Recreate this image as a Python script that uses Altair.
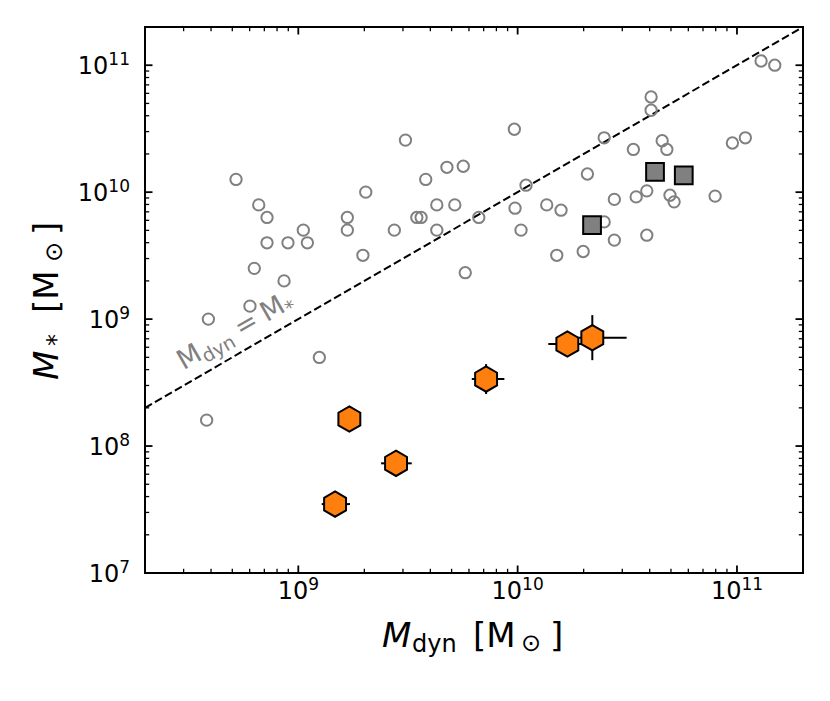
import altair as alt
import pandas as pd

# ---------------- data ----------------
# grey open circles: comparison sample
circ_mdyn = [5.2e8, 6.6e8, 7.2e8, 7.2e8, 8.97e8, 1.054e9, 1.10e9, 6.30e8, 8.61e8,
             1.673e9, 1.673e9, 2.03e9, 1.97e9, 2.74e9, 3.08e9, 3.47e9, 3.63e9, 3.81e9, 4.28e9, 4.28e9,
             4.76e9, 5.17e9, 5.65e9, 5.77e9, 6.65e9,
             9.66e9, 9.73e9, 1.036e10, 1.092e10, 1.357e10, 1.508e10, 1.577e10, 1.99e10, 2.08e10,
             2.48e10, 2.48e10, 2.76e10, 2.76e10, 3.37e10, 3.47e10, 3.88e10, 3.88e10, 4.06e10, 4.06e10,
             4.56e10, 4.79e10, 4.95e10, 5.17e10, 7.95e10, 9.53e10, 1.092e11, 1.288e11, 1.487e11,
             3.89e8, 6.02e8, 1.247e9, 3.82e8]
circ_mstar = [1.26e10, 7.94e9, 6.32e9, 3.99e9, 3.99e9, 5.02e9, 3.99e9, 2.51e9, 2.0e9,
              6.32e9, 5.02e9, 1.0e10, 3.18e9, 5.02e9, 2.57e10, 6.32e9, 6.32e9, 1.26e10, 7.94e9, 5.02e9,
              1.57e10, 7.94e9, 1.60e10, 2.32e9, 6.32e9,
              3.13e10, 7.48e9, 5.02e9, 1.135e10, 7.94e9, 3.18e9, 7.21e9, 3.41e9, 1.39e10,
              2.68e10, 5.83e9, 8.77e9, 4.19e9, 2.17e10, 9.18e9, 1.024e10, 4.58e9, 5.62e10, 4.42e10,
              2.54e10, 2.17e10, 9.46e9, 8.39e9, 9.3e9, 2.44e10, 2.68e10, 1.08e11, 1.0e11,
              1.0e9, 1.265e9, 4.99e8, 1.60e8]

# grey squares
sq_mdyn = [2.184e10, 4.23e10, 5.72e10]
sq_mstar = [5.50e9, 1.445e10, 1.353e10]

# orange hexagons
hex_mdyn = [1.709e9, 2.79e9, 1.471e9, 7.18e9, 1.685e10, 2.19e10]
hex_mstar = [1.632e8, 7.31e7, 3.49e7, 3.37e8, 6.36e8, 7.13e8]

# horizontal error bars (M_dyn)
xerr_mstar = [7.31e7, 3.49e7, 3.37e8, 6.36e8, 7.13e8]
xerr_lo = [2.384e9, 1.278e9, 6.18e9, 1.38e10, 1.53e10]
xerr_hi = [3.29e9, 1.721e9, 8.70e9, 2.07e10, 3.14e10]

# vertical error bars (M_*)
yerr_mdyn = [7.18e9, 2.19e10]
yerr_lo = [2.57e8, 4.75e8]
yerr_hi = [4.42e8, 1.075e9]

# one-to-one line
line_m = [2e8, 2e11]

# axis ticks and tick labels (10^exponent)
x_major = [1e9, 1e10, 1e11]
x_exp = ["9", "10", "11"]
y_major = [1e7, 1e8, 1e9, 1e10, 1e11]
y_exp = ["7", "8", "9", "10", "11"]
x_minor = [m * 10.0 ** e for e in (8, 9, 10) for m in range(2, 10) if 2e8 < m * 10.0 ** e < 2e11]
y_minor = [m * 10.0 ** e for e in (7, 8, 9, 10, 11) for m in range(2, 10) if 1e7 < m * 10.0 ** e < 2e11]

# ---------------- layout ----------------
W, H = 658, 546
FONT = "DejaVu Sans"
GREY = "#808080"
ORANGE = "#ff7f0e"
TL = 24      # tick label font size ("10")
TE = 17      # exponent font size
DIG = 0.636  # DejaVu digit advance (em)

x_scale = alt.Scale(type="log", domain=[2e8, 2e11], nice=False)
y_scale = alt.Scale(type="log", domain=[1e7, 2e11], nice=False)
x_axis = alt.Axis(labels=False, ticks=False, domain=False, grid=False, title=None)
y_axis = alt.Axis(labels=False, ticks=False, domain=False, grid=False, title=None)


def X(field):
    return alt.X(field, type="quantitative", scale=x_scale, axis=x_axis)


def Y(field):
    return alt.Y(field, type="quantitative", scale=y_scale, axis=y_axis)


layers = []

# one-to-one dashed line
line_df = pd.DataFrame({"mdyn": line_m, "mstar": line_m})
layers.append(alt.Chart(line_df).mark_line(color="black", strokeWidth=2, strokeDash=[8, 3.5])
              .encode(x=X("mdyn"), y=Y("mstar")))

# ticks (inward, on all four sides)
for vals, length, width in ((x_major, 7.5, 1.8), (x_minor, 4.2, 1.3)):
    df = pd.DataFrame({"v": vals})
    base = alt.Chart(df).mark_rule(color="black", strokeWidth=width)
    layers.append(base.encode(x=X("v"), y=alt.value(H), y2=alt.value(H - length)))
    layers.append(base.encode(x=X("v"), y=alt.value(0), y2=alt.value(length)))
for vals, length, width in ((y_major, 7.5, 1.8), (y_minor, 4.2, 1.3)):
    df = pd.DataFrame({"v": vals})
    base = alt.Chart(df).mark_rule(color="black", strokeWidth=width)
    layers.append(base.encode(y=Y("v"), x=alt.value(0), x2=alt.value(length)))
    layers.append(base.encode(y=Y("v"), x=alt.value(W), x2=alt.value(W - length)))

# tick labels: "10" + raised exponent
for v, e in zip(x_major, x_exp):
    df = pd.DataFrame({"v": [v]})
    w10 = 2 * DIG * TL
    total = w10 + len(e) * DIG * TE
    start = -total / 2
    layers.append(alt.Chart(df).mark_text(text="10", font=FONT, fontSize=TL, color="black",
                                          align="left", baseline="alphabetic", dx=start)
                  .encode(x=X("v"), y=alt.value(H + 25.5)))
    layers.append(alt.Chart(df).mark_text(text=e, font=FONT, fontSize=TE, color="black",
                                          align="left", baseline="alphabetic", dx=start + w10)
                  .encode(x=X("v"), y=alt.value(H + 16.5)))
for v, e in zip(y_major, y_exp):
    df = pd.DataFrame({"v": [v]})
    we = len(e) * DIG * TE
    layers.append(alt.Chart(df).mark_text(text="10", font=FONT, fontSize=TL, color="black",
                                          align="right", baseline="alphabetic", dy=8.7)
                  .encode(y=Y("v"), x=alt.value(-15 - we)))
    layers.append(alt.Chart(df).mark_text(text=e, font=FONT, fontSize=TE, color="black",
                                          align="right", baseline="alphabetic", dy=0)
                  .encode(y=Y("v"), x=alt.value(-15)))

# grey circles
circ_df = pd.DataFrame({"mdyn": circ_mdyn, "mstar": circ_mstar})
layers.append(alt.Chart(circ_df).mark_point(shape="circle", filled=False, stroke=GREY,
                                            strokeWidth=2, size=128, opacity=1)
              .encode(x=X("mdyn"), y=Y("mstar")))

# grey squares
sq_df = pd.DataFrame({"mdyn": sq_mdyn, "mstar": sq_mstar})
layers.append(alt.Chart(sq_df).mark_point(shape="square", filled=True, fill=GREY, stroke="black",
                                          strokeWidth=2, size=315, opacity=1, fillOpacity=1)
              .encode(x=X("mdyn"), y=Y("mstar")))

# error bars
xe_df = pd.DataFrame({"lo": xerr_lo, "hi": xerr_hi, "mstar": xerr_mstar})
layers.append(alt.Chart(xe_df).mark_rule(color="black", strokeWidth=2)
              .encode(x=X("lo"), x2="hi", y=Y("mstar")))
ye_df = pd.DataFrame({"mdyn": yerr_mdyn, "lo": yerr_lo, "hi": yerr_hi})
layers.append(alt.Chart(ye_df).mark_rule(color="black", strokeWidth=2)
              .encode(x=X("mdyn"), y=Y("lo"), y2="hi"))

# orange hexagons
HEX = "M0,-1L0.866,-0.5L0.866,0.5L0,1L-0.866,0.5L-0.866,-0.5Z"
hex_df = pd.DataFrame({"mdyn": hex_mdyn, "mstar": hex_mstar})
layers.append(alt.Chart(hex_df).mark_point(shape=HEX, filled=True, fill=ORANGE, stroke="black",
                                           strokeWidth=2, size=640, opacity=1, fillOpacity=1)
              .encode(x=X("mdyn"), y=Y("mstar")))

one = pd.DataFrame({"k": [0]})

# "M_dyn = M_*" annotation along the dashed line
ann_x, ann_y = 3.0e8, 3.96e8
for txt, size, dx, dy in (("M", 27, 0, 0), ("dyn", 19, 23.3, 5.5), ("=", 27, 66, 0),
                          ("M", 27, 96, 0), ("*", 19, 119.5, 5.5)):
    layers.append(alt.Chart(one).mark_text(text=txt, font=FONT, fontSize=size, color=GREY,
                                           angle=330, align="left", baseline="alphabetic",
                                           dx=dx, dy=dy)
                  .encode(x=alt.X(datum=ann_x, type="quantitative", scale=x_scale, axis=x_axis),
                          y=alt.Y(datum=ann_y, type="quantitative", scale=y_scale, axis=y_axis)))


def piece(txt, x, y, size, style="normal", angle=0, dx=0, dy=0):
    return (alt.Chart(one).mark_text(text=txt, font=FONT, fontSize=size, fontStyle=style,
                                     color="black", angle=angle, align="left",
                                     baseline="alphabetic", dx=dx, dy=dy)
            .encode(x=alt.value(x), y=alt.value(y)))


# x-axis title: M_dyn [M_sun]
layers += [piece("M", 237, 620, 34, "italic"),
           piece("dyn", 267, 625, 24),
           piece("[M", 328, 620, 34),
           piece("\u2299", 376, 624, 24),
           piece("]", 405, 620, 34)]

# y-axis title: M_* [M_sun]  (rotated)
YT_X, YT_Y = -87, 353
layers += [piece("M", YT_X, YT_Y, 34, "italic", angle=270),
           piece("*", YT_X, YT_Y, 24, angle=270, dx=34, dy=6),
           piece("[M", YT_X, YT_Y, 34, angle=270, dx=67),
           piece("\u2299", YT_X, YT_Y, 24, angle=270, dx=118, dy=4),
           piece("]", YT_X, YT_Y, 34, angle=270, dx=145)]

chart = (alt.layer(*layers)
         .properties(width=W, height=H, background="white",
                     padding={"left": 137, "top": 19, "right": 15, "bottom": 110},
                     autosize=alt.AutoSizeParams(type="none"))
         .configure_view(stroke="black", strokeWidth=2))

chart.save("out.html", embed_options={"renderer": "svg", "actions": False})
